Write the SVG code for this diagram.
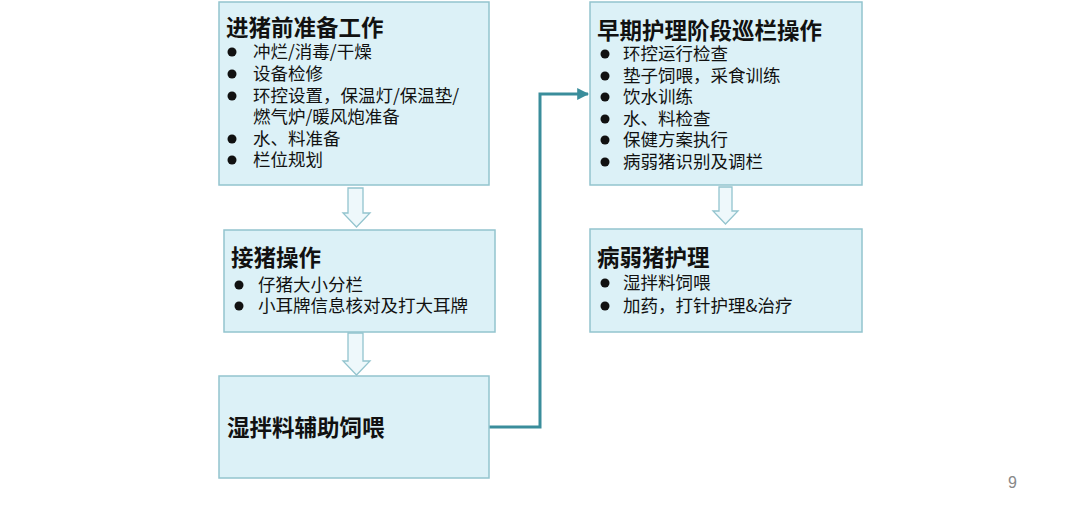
<svg xmlns="http://www.w3.org/2000/svg" width="1080" height="509" viewBox="0 0 1080 509">
<defs>
<style>
.box{fill:#dcf1f7;stroke:#93c4ce;stroke-width:1.5}
.t{font-family:"Microsoft YaHei","Noto Sans CJK SC",sans-serif;font-size:22.5px;font-weight:bold;fill:#111}
.b{font-family:"Microsoft YaHei","Noto Sans CJK SC",sans-serif;font-size:17.5px;fill:#111}
.dot{fill:#111}
.blk{fill:#eef8fb;stroke:#93c4ce;stroke-width:1.3}
.conn{fill:none;stroke:#3a8d9b;stroke-width:3}
.pn{font-family:"Liberation Sans",Arial,sans-serif;font-size:16px;fill:#888}
</style>
<marker id="ah" viewBox="0 0 10 10" refX="9" refY="5" markerWidth="4" markerHeight="4" orient="auto" markerUnits="strokeWidth">
<path d="M0,0 L10,5 L0,10 z" fill="#3a8d9b"/>
</marker>
</defs>

<g id="connectors">
<path class="blk" d="M348,188 H363 V213 H370 L356.5,227 L343,213 H348 Z"/>
<path class="blk" d="M348,333 H363 V361 H370 L356.5,375 L343,361 H348 Z"/>
<path class="blk" d="M719,187 H732 V211 H738 L725.5,224 L713,211 H719 Z"/>
<path class="conn" d="M489,427 H540 V94 H588" marker-end="url(#ah)"/>
</g>

<g id="node-prep">
<rect class="box" x="219" y="2" width="270" height="183"/>
<text class="t" x="226" y="36">进猪前准备工作</text>
<circle class="dot" cx="232" cy="52" r="4.5"/><text class="b" x="253" y="58">冲烂/消毒/干燥</text>
<circle class="dot" cx="232" cy="74" r="4.5"/><text class="b" x="253" y="80">设备检修</text>
<circle class="dot" cx="232" cy="96" r="4.5"/><text class="b" x="253" y="102">环控设置，保温灯/保温垫/</text>
<text class="b" x="253" y="123">燃气炉/暖风炮准备</text>
<circle class="dot" cx="232" cy="139" r="4.5"/><text class="b" x="253" y="145">水、料准备</text>
<circle class="dot" cx="232" cy="160" r="4.5"/><text class="b" x="253" y="166">栏位规划</text>
</g>

<g id="node-receive">
<rect class="box" x="224" y="230" width="271" height="102"/>
<text class="t" x="231" y="266">接猪操作</text>
<circle class="dot" cx="239" cy="285" r="4.5"/><text class="b" x="258" y="291">仔猪大小分栏</text>
<circle class="dot" cx="239" cy="306" r="4.5"/><text class="b" x="258" y="312">小耳牌信息核对及打大耳牌</text>
</g>

<g id="node-wetfeed">
<rect class="box" x="219" y="376" width="270" height="102"/>
<text class="t" x="227" y="436">湿拌料辅助饲喂</text>
</g>

<g id="node-early">
<rect class="box" x="590" y="2" width="272" height="183"/>
<text class="t" x="597" y="39">早期护理阶段巡栏操作</text>
<circle class="dot" cx="605" cy="54" r="4.5"/><text class="b" x="623" y="60">环控运行检查</text>
<circle class="dot" cx="605" cy="76" r="4.5"/><text class="b" x="623" y="82">垫子饲喂，采食训练</text>
<circle class="dot" cx="605" cy="97" r="4.5"/><text class="b" x="623" y="103">饮水训练</text>
<circle class="dot" cx="605" cy="119" r="4.5"/><text class="b" x="623" y="125">水、料检查</text>
<circle class="dot" cx="605" cy="140" r="4.5"/><text class="b" x="623" y="146">保健方案执行</text>
<circle class="dot" cx="605" cy="162" r="4.5"/><text class="b" x="623" y="168">病弱猪识别及调栏</text>
</g>

<g id="node-sick">
<rect class="box" x="590" y="229" width="272" height="103"/>
<text class="t" x="597" y="266">病弱猪护理</text>
<circle class="dot" cx="605" cy="283" r="4.5"/><text class="b" x="623" y="289">湿拌料饲喂</text>
<circle class="dot" cx="605" cy="306" r="4.5"/><text class="b" x="623" y="312">加药，打针护理&amp;治疗</text>
</g>

<text class="pn" x="1008" y="488">9</text>
</svg>
